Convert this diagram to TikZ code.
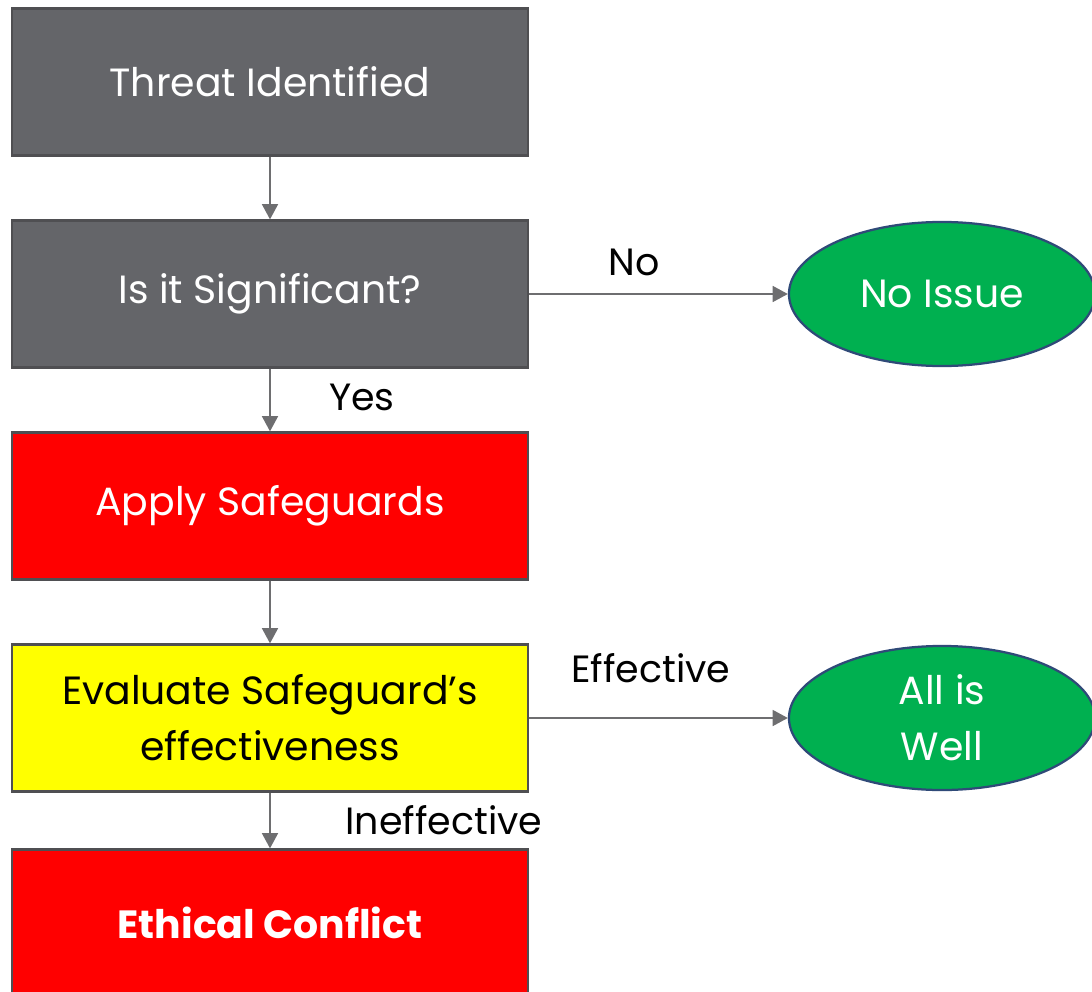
\documentclass[tikz,border=0pt]{standalone}
\usepackage{fontspec}
\setmainfont{Poppins}
\usetikzlibrary{shapes.geometric,arrows.meta}
\definecolor{boxgray}{HTML}{646569}
\definecolor{rimgray}{HTML}{4F4F52}
\definecolor{linegray}{HTML}{6E6E70}
\definecolor{alarmred}{HTML}{FF0000}
\definecolor{warnyellow}{HTML}{FFFF00}
\definecolor{okgreen}{HTML}{00B050}
\definecolor{rimblue}{HTML}{2F4A78}

\begin{document}
\begin{tikzpicture}[x=0.025cm, y=-0.025cm]
	\tikzstyle{process box}=[rectangle, draw=rimgray, line width=1.6pt, minimum width=12.9cm, minimum height=3.675cm, inner sep=0pt, text=white, align=center, font=\fontsize{28}{40}\selectfont]
	\tikzstyle{outcome}=[ellipse, draw=rimblue, line width=1.6pt, fill=okgreen, minimum width=7.65cm, minimum height=3.6cm, inner sep=0pt, text=white, align=center, font=\fontsize{28}{40}\selectfont]
	\tikzstyle{answer}=[text=black, font=\fontsize{27}{32}\selectfont, inner sep=0pt]
	\tikzstyle{flow}=[draw=linegray, line width=1.2pt, -{Triangle[length=0.38cm,width=0.4cm,fill=linegray]}]

	\useasboundingbox (0,0) rectangle (1092,992);

	% Draw the process boxes
	\node[process box, fill=boxgray] (threat) at (270,82) {Threat Identified};
	\node[process box, fill=boxgray] (signif) at (270,294) {Is it Significant?};
	\node[process box, fill=alarmred] (apply) at (270,506) {Apply Safeguards};
	\node[process box, fill=warnyellow, text=black] (evaluate) at (270,718) {Evaluate Safeguard’s\\effectiveness};
	\node[process box, fill=alarmred, font=\fontsize{28}{40}\selectfont\bfseries] (conflict) at (270,923) {Ethical Conflict};

	% Draw the outcomes
	\node[outcome] (noissue) at (942,294) {No Issue};
	\node[outcome] (allwell) at (942,718) {All is\\Well};

	% Connect the steps
	\draw[flow] (threat) -- (signif);
	\draw[flow] (signif) -- (apply);
	\draw[flow] (apply) -- (evaluate);
	\draw[flow] (evaluate) -- (conflict);
	\draw[flow] (signif) -- (noissue);
	\draw[flow] (evaluate) -- (allwell);

	% Annotate the answers
	\node[answer] (no) at (634,262) {No};
	\node[answer] (yes) at (362,397) {Yes};
	\node[answer] (effective) at (651,668) {Effective};
	\node[answer] (ineffective) at (444,820) {Ineffective};
\end{tikzpicture}
\end{document}
